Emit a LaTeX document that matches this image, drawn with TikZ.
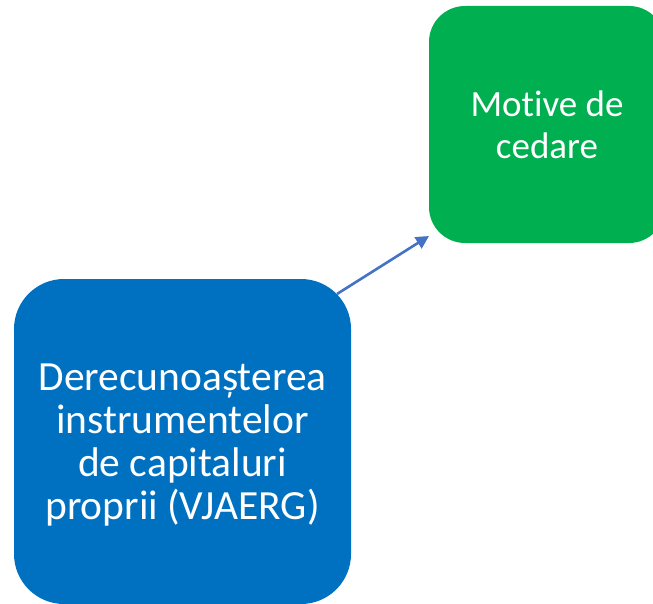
\documentclass[tikz,border=0pt]{standalone}
\usepackage{fontspec}
\setmainfont[Ligatures=NoCommon]{Carlito}
\usetikzlibrary{arrows.meta}
\definecolor{boxblue}{HTML}{0070C0}
\definecolor{boxgreen}{HTML}{00B050}
\definecolor{arrowblue}{HTML}{4472C4}
\begin{document}
\begin{tikzpicture}[x=1pt,y=-1pt,
  box/.style={text=white, align=center, inner sep=0pt},
  arr/.style={draw=arrowblue, line width=2.6pt, -{Triangle[length=13pt,width=13pt]}}]
\useasboundingbox (0,0) rectangle (653,604);
\begin{scope}
\clip (0,0) rectangle (653,604);
\fill[boxblue, rounded corners=50pt] (14,279) rectangle (351,604);
\fill[boxgreen, rounded corners=36pt] (429,6) rectangle (665,243);
\end{scope}
\node[box, font=\fontsize{41.5}{43}\selectfont] (src) at (182.5,445) {Derecunoașterea\\instrumentelor\\de capitaluri\\proprii (VJAERG)};
\node[box, font=\fontsize{37}{42}\selectfont] (dst) at (547,125) {Motive de\\cedare};
\coordinate (a) at (337,294);
\coordinate (b) at (429,236);
\draw[arr] (a) -- (b);
\end{tikzpicture}
\end{document}
